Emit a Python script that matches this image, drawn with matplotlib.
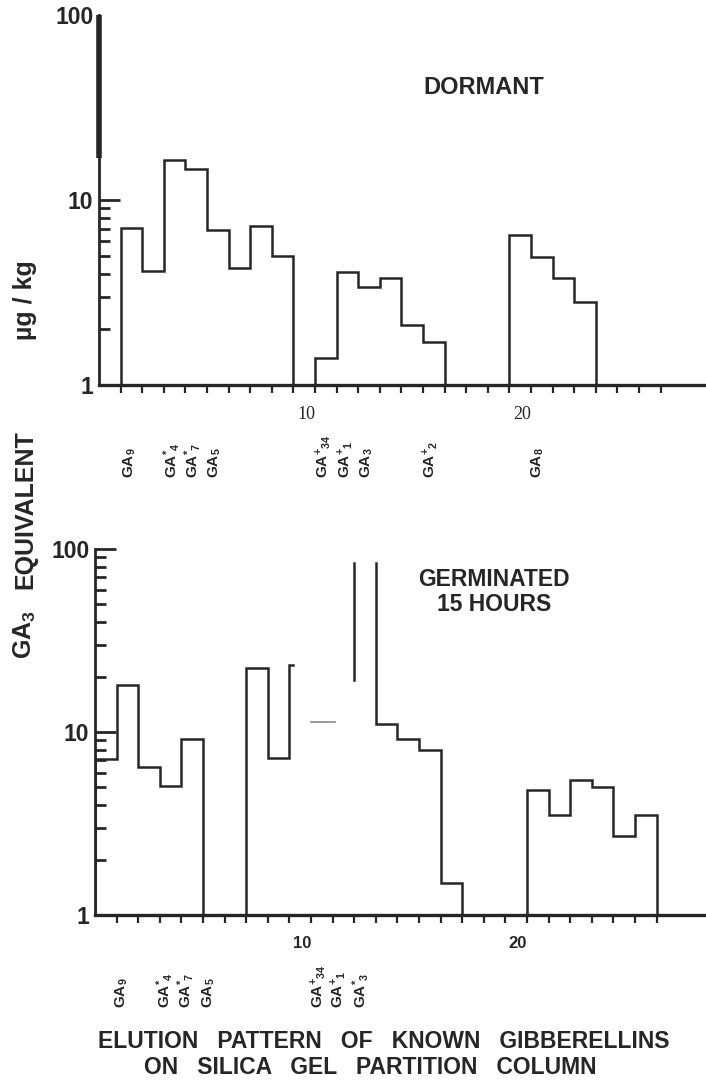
import matplotlib
matplotlib.use("Agg")
import matplotlib.pyplot as plt
import matplotlib.transforms as mtransforms
from matplotlib.ticker import FixedLocator, NullFormatter

plt.rcParams["font.family"] = ["Liberation Sans", "DejaVu Sans"]
plt.rcParams["font.weight"] = "bold"
plt.rcParams["mathtext.fontset"] = "custom"
plt.rcParams["mathtext.rm"] = "Liberation Sans:bold"
plt.rcParams["mathtext.it"] = "Liberation Sans:bold"
plt.rcParams["mathtext.bf"] = "Liberation Sans:bold"
plt.rcParams["mathtext.default"] = "rm"

INK = "#262626"

# dormant seed extract, ug GA3 equivalent per kg, per fraction
dormant_a_edges = [1, 2, 3, 4, 5, 6, 7, 8, 9]
dormant_a_values = [7.1, 4.15, 16.5, 14.8, 6.9, 4.3, 7.2, 5.0]
dormant_b_edges = [10, 11, 12, 13, 14, 15, 16]
dormant_b_values = [1.4, 4.1, 3.4, 3.8, 2.1, 1.7]
dormant_c_edges = [19, 20, 21, 22, 23]
dormant_c_values = [6.5, 4.9, 3.8, 2.8]
dormant_off_scale = (16.9, 100)  # fraction 0 runs off the top

# germinated 15 hours
germ_a_edges = [0, 1, 2, 3, 4, 5]
germ_a_values = [7.1, 18.1, 6.4, 5.1, 9.2]
germ_b_edges = [7, 8, 9, 9.15]
germ_b_values = [22.4, 7.2, 23.2]
germ_gap_level = 11.4
germ_gap_span = (10.0, 11.1)
germ_spike_x = 12
germ_spike_range = (19.2, 84)
germ_c_edges = [13, 14, 15, 16, 17]
germ_c_values = [11.1, 9.1, 8.0, 1.5]
germ_c_start = 84
germ_d_edges = [20, 21, 22, 23, 24, 25, 26]
germ_d_values = [4.8, 3.5, 5.5, 5.0, 2.7, 3.5]

# where the known gibberellins elute
known_top_names = [r"$\mathrm{GA}_{9}$", r"$\mathrm{GA}^{*}{}_{4}$", r"$\mathrm{GA}^{*}{}_{7}$",
                   r"$\mathrm{GA}_{5}$", r"$\mathrm{GA}^{+}{}_{34}$", r"$\mathrm{GA}^{+}{}_{1}$",
                   r"$\mathrm{GA}_{3}$", r"$\mathrm{GA}^{+}{}_{2}$", r"$\mathrm{GA}_{8}$"]
known_top_fraction = [1.44, 3.37, 4.34, 5.37, 10.37, 11.39, 12.41, 15.32, 20.32]
known_bot_names = [r"$\mathrm{GA}_{9}$", r"$\mathrm{GA}^{*}{}_{4}$", r"$\mathrm{GA}^{*}{}_{7}$",
                   r"$\mathrm{GA}_{5}$", r"$\mathrm{GA}^{+}{}_{34}$", r"$\mathrm{GA}^{+}{}_{1}$",
                   r"$\mathrm{GA}^{*}{}_{3}$"]
known_bot_fraction = [1.24, 3.24, 4.21, 5.25, 10.34, 11.26, 12.27]

fraction_ticks = list(range(1, 27))
y_major = [1, 10, 100]
y_major_labels = ["1", "10", "100"]


def outline(edges, values, start=1.0, end=1.0):
    xs, ys = [edges[0]], [start]
    for i, v in enumerate(values):
        xs += [edges[i], edges[i + 1]]
        ys += [v, v]
    if end is not None:
        xs.append(edges[-1])
        ys.append(end)
    return xs, ys


W, H = 706, 1085
fig = plt.figure(figsize=(W / 100, H / 100), dpi=100)


def axes_px(left, top, right, bottom):
    return fig.add_axes([left / W, 1 - bottom / H, (right - left) / W, (bottom - top) / H])


def setup(ax, left_px, minor, tick_font):
    ax.set_yscale("log")
    ax.set_ylim(1, 100)
    ax.set_xlim(0, (W - left_px) / 21.6)
    for s in ["top", "right"]:
        ax.spines[s].set_visible(False)
    ax.spines["left"].set_linewidth(2)
    ax.spines["bottom"].set_linewidth(2.4)
    ax.spines["left"].set_color(INK)
    ax.spines["bottom"].set_color(INK)
    ax.set_yticks(y_major)
    ax.set_yticklabels(y_major_labels, fontsize=16.5, fontweight="bold")
    ax.yaxis.set_minor_locator(FixedLocator(minor))
    ax.yaxis.set_minor_formatter(NullFormatter())
    ax.tick_params(axis="y", which="major", direction="in", length=15, width=2,
                   pad=4, colors=INK)
    ax.tick_params(axis="y", which="minor", direction="in", length=8, width=2, colors=INK)
    ax.set_xticks(fraction_ticks)
    ax.set_xticklabels([str(t) if t in (10, 20) else "" for t in fraction_ticks],
                       **tick_font)
    ax.tick_params(axis="x", direction="out", length=6, width=1.6, pad=9, colors=INK)
    shift = mtransforms.ScaledTranslation(-0.09, 0, fig.dpi_scale_trans)
    for lbl in ax.get_xticklabels():
        lbl.set_transform(lbl.get_transform() + shift)


line_kw = dict(color=INK, lw=1.8, solid_joinstyle="miter")

# dormant panel
ax1 = axes_px(99, 15, W, 385)
setup(ax1, 99, [2, 3, 4, 5, 6, 7, 8, 9],
      dict(fontfamily="Liberation Serif", fontweight="normal", fontsize=13))
ax1.yaxis.get_major_ticks()[2].tick1line.set_visible(False)
for edges, values in [(dormant_a_edges, dormant_a_values),
                      (dormant_b_edges, dormant_b_values),
                      (dormant_c_edges, dormant_c_values)]:
    ax1.plot(*outline(edges, values), **line_kw)
ax1.plot([0, 0], dormant_off_scale, color=INK, lw=4, solid_capstyle="butt", clip_on=False)
ax1.text(0.634, 0.805, "DORMANT", transform=ax1.transAxes, ha="center", va="center",
         fontsize=17, fontweight="bold", color=INK)

# germinated panel
ax2 = axes_px(95, 549, W, 915)
setup(ax2, 95, [2, 3, 4, 5, 6, 7, 8, 9, 20, 30, 40, 50, 60, 70, 80, 90],
      dict(fontweight="bold", fontsize=12))
ax2.plot(*outline(germ_a_edges, germ_a_values), **line_kw)
ax2.plot(*outline(germ_b_edges, germ_b_values, end=None), **line_kw)
ax2.plot(germ_gap_span, [germ_gap_level] * 2, color="#8a8a8a", lw=1.2)
ax2.plot([germ_spike_x] * 2, germ_spike_range, **line_kw)
ax2.plot(*outline(germ_c_edges, germ_c_values, start=germ_c_start), **line_kw)
ax2.plot(*outline(germ_d_edges, germ_d_values), **line_kw)
ax2.text(0.653, 0.8825, "GERMINATED\n15 HOURS", transform=ax2.transAxes, ha="center",
         va="center", fontsize=16.5, fontweight="bold", color=INK, linespacing=1.1)

# elution positions of the reference gibberellins
for ax, names, fracs, ybase in [(ax1, known_top_names, known_top_fraction, -0.252),
                                (ax2, known_bot_names, known_bot_fraction, -0.254)]:
    trans = mtransforms.blended_transform_factory(ax.transData, ax.transAxes)
    for name, f in zip(names, fracs):
        ax.text(f, ybase, name, transform=trans, rotation=90, ha="center", va="bottom",
                fontsize=11, color=INK)

# y-axis caption, in three pieces down the left margin
for txt, ypx in [(r"$\mathrm{GA}_{3}$", 635), ("EQUIVALENT", 510), ("µg / kg", 300)]:
    fig.text(25 / W, 1 - ypx / H, txt, rotation=90, ha="center", va="center",
             fontsize=18, fontweight="bold", color=INK)

fig.text(384 / W, 1 - 1041 / H, "ELUTION   PATTERN   OF   KNOWN   GIBBERELLINS",
         ha="center", va="center", fontsize=16.5, fontweight="bold", color=INK)
fig.text(370 / W, 1 - 1067 / H, "ON   SILICA   GEL   PARTITION   COLUMN",
         ha="center", va="center", fontsize=16.5, fontweight="bold", color=INK)

fig.savefig("out.png", dpi=100, facecolor="white")
